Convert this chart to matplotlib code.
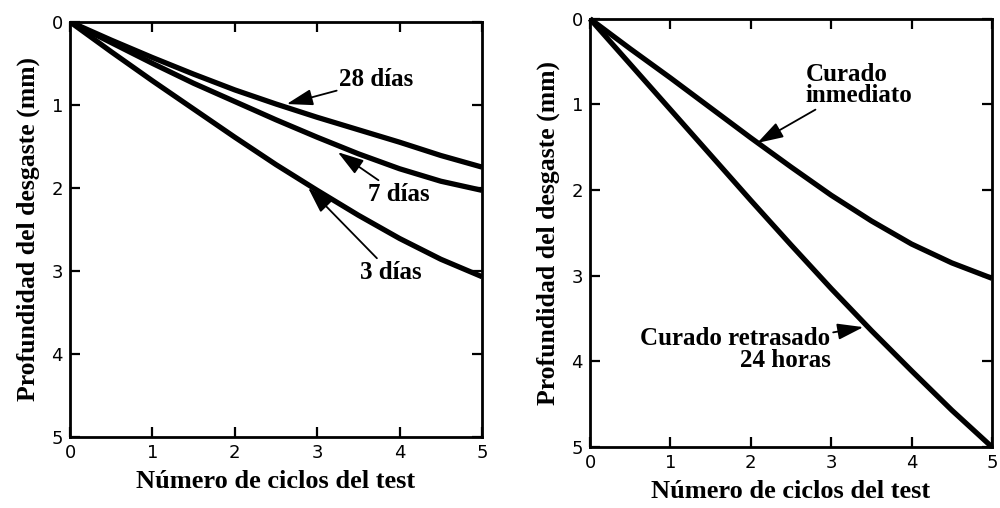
import numpy as np
import matplotlib.pyplot as plt

# ciclos del test (eje x) y profundidad de desgaste en mm (eje y)
ciclos = [0, 0.5, 1, 1.5, 2, 2.5, 3, 3.5, 4, 4.5, 5]

dias_28 = [0, 0.22, 0.43, 0.63, 0.82, 0.99, 1.15, 1.30, 1.45, 1.61, 1.75]
dias_7 = [0, 0.25, 0.50, 0.74, 0.96, 1.18, 1.39, 1.59, 1.77, 1.92, 2.03]
dias_3 = [0, 0.36, 0.71, 1.05, 1.39, 1.72, 2.03, 2.33, 2.61, 2.86, 3.07]

inmediato = [0, 0.35, 0.69, 1.04, 1.39, 1.73, 2.06, 2.36, 2.63, 2.85, 3.03]
retrasado = [0, 0.53, 1.06, 1.59, 2.12, 2.64, 3.15, 3.64, 4.11, 4.57, 5.00]

ticks = [0, 1, 2, 3, 4, 5]

serif = 'Liberation Serif'
sans = 'DejaVu Sans'

fig = plt.figure(figsize=(10, 5.08), dpi=100)
ax1 = fig.add_axes([0.070, 0.140, 0.412, 0.817])
ax2 = fig.add_axes([0.590, 0.120, 0.402, 0.843])


def preparar(ax):
    ax.set_xlim(0, 5)
    ax.set_ylim(5, 0)
    ax.set_xticks(ticks)
    ax.set_yticks(ticks)
    ax.tick_params(direction='in', length=7, width=1.6, top=True, right=True,
                   labelsize=13, pad=5)
    for lab in ax.get_xticklabels() + ax.get_yticklabels():
        lab.set_family(sans)
    for s in ax.spines.values():
        s.set_linewidth(2.0)
    ax.set_xlabel('Número de ciclos del test', family=serif, weight='bold',
                  fontsize=19, labelpad=6)
    ax.set_ylabel('Profundidad del desgaste (mm)', family=serif, weight='bold',
                  fontsize=18.5, labelpad=8)


preparar(ax1)
preparar(ax2)

flecha = dict(arrowstyle='-|>,head_length=0.8,head_width=0.25', color='black',
              lw=1.3, mutation_scale=20, shrinkA=0, shrinkB=0)
txt = dict(family=serif, weight='bold', fontsize=18, va='center')

for serie in (dias_28, dias_7, dias_3):
    ax1.plot(ciclos, serie, color='black', lw=3.8, solid_capstyle='butt',
             solid_joinstyle='round')

ax1.annotate('28 días', xy=(2.63, 0.99), xytext=(3.27, 0.70),
             arrowprops=flecha, ha='left', **txt)
ax1.annotate('7 días', xy=(3.25, 1.57), xytext=(3.62, 2.08),
             arrowprops=flecha, ha='left', **txt)
ax1.annotate('3 días', xy=(2.89, 2.00), xytext=(3.52, 3.02),
             arrowprops=flecha, ha='left', **txt)

for serie in (inmediato, retrasado):
    ax2.plot(ciclos, serie, color='black', lw=3.8, solid_capstyle='butt',
             solid_joinstyle='round', clip_on=False)

ax2.annotate('Curado\ninmediato', xy=(2.08, 1.45), xytext=(2.68, 0.77),
             arrowprops=flecha, ha='left', multialignment='left',
             linespacing=0.9, **txt)
ax2.annotate('Curado retrasado\n24 horas', xy=(3.40, 3.60), xytext=(2.99, 3.86),
             arrowprops=flecha, ha='right', multialignment='right',
             linespacing=0.9, **txt)

fig.savefig('out.png', dpi=100)
